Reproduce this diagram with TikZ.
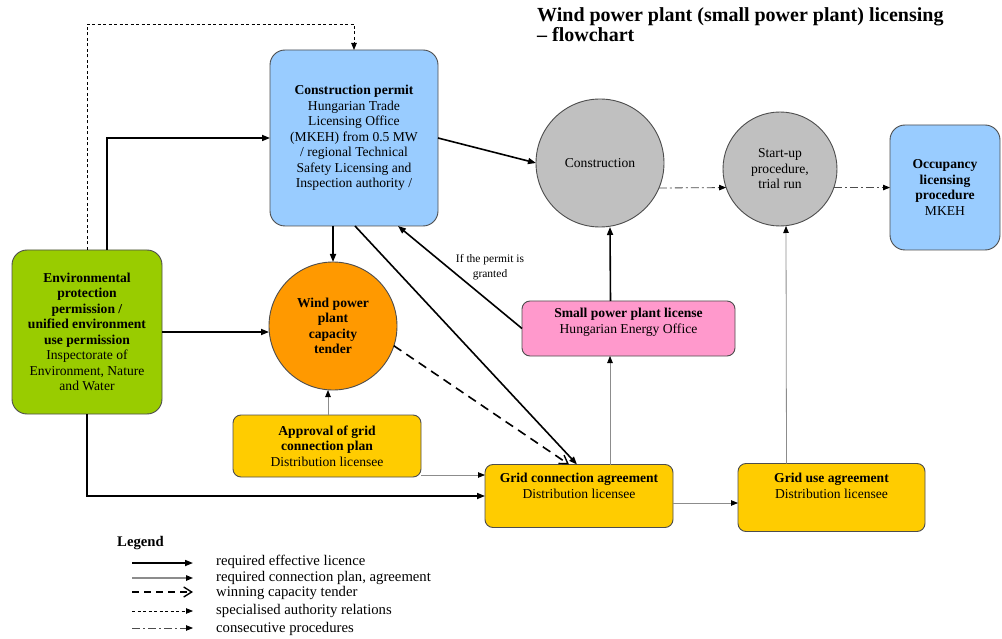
\documentclass[tikz,border=0pt]{standalone}
\usepackage{fontspec}
\setmainfont{Liberation Serif}
\usetikzlibrary{arrows.meta}
\definecolor{cpblue}{HTML}{99CCFF}
\definecolor{envgreen}{HTML}{99CC00}
\definecolor{tenderorange}{HTML}{FF9900}
\definecolor{gridyellow}{HTML}{FFCC00}
\definecolor{lpink}{HTML}{FF99CC}
\definecolor{cgray}{HTML}{C0C0C0}
\definecolor{edgegray}{HTML}{4D4D4D}
\definecolor{thingray}{HTML}{8C8C8C}
\newcommand{\bodyfont}{\fontsize{13.6}{15.5}\selectfont}
\newcommand{\legfont}{\fontsize{14.7}{16}\selectfont}
\begin{document}
\begin{tikzpicture}[x=1pt,y=-1pt,
  box/.style={draw=edgegray, line width=0.9pt, rounded corners=8pt, outer sep=0pt, inner sep=0pt, align=center, font=\bodyfont},
  bigbox/.style={box, rounded corners=15pt},
  circ/.style={circle, draw=edgegray, line width=0.9pt, fill=cgray, inner sep=0pt, outer sep=0pt, align=center, font=\bodyfont},
  txt/.style={align=center, font=\bodyfont, inner sep=0pt},
  lic/.style={line width=1.6pt, -{Triangle[length=8pt,width=6pt]}},
  plan/.style={line width=0.8pt, draw=thingray, -{Triangle[length=7pt,width=5.5pt,color=black]}},
  winning/.style={line width=1.6pt, dash pattern=on 9pt off 6pt, -{Straight Barb[length=8pt,width=10pt,line width=1.4pt]}},
  authority/.style={line width=0.8pt, dash pattern=on 3pt off 2.5pt, -{Triangle[length=7pt,width=5.5pt]}},
  consec/.style={line width=0.8pt, draw=black!70, dash pattern=on 8pt off 3pt on 2pt off 3pt, -{Triangle[length=7pt,width=5.5pt,color=black]}},
  legtxt/.style={anchor=base west, inner sep=0pt, font=\legfont}
]
\useasboundingbox[fill=white] (0,0) rectangle (1002,639);

% title
\node[anchor=north west, align=left, inner sep=0pt, font=\fontsize{20}{20.5}\selectfont\bfseries] (title) at (537,7)
  {Wind power plant (small power plant) licensing\\– flowchart};

% nodes
\node[bigbox, fill=cpblue, minimum width=168, minimum height=176] (cp) at (354,138)
  {\textbf{Construction permit}\\Hungarian Trade\\Licensing Office\\(MKEH) from 0.5 MW\\/ regional Technical\\Safety Licensing and\\Inspection authority /};
\node[bigbox, fill=envgreen, minimum width=150, minimum height=164] (env) at (87,332)
  {\textbf{Environmental}\\\textbf{protection}\\\textbf{permission /}\\\textbf{unified environment}\\\textbf{use permission}\\Inspectorate of\\Environment, Nature\\and Water};
\node[circ, fill=tenderorange, minimum size=128] (tender) at (333,326)
  {\textbf{Wind power}\\\textbf{plant}\\\textbf{capacity}\\\textbf{tender}};
\node[box, fill=gridyellow, minimum width=188, minimum height=62] (appr) at (327,446)
  {\textbf{Approval of grid}\\\textbf{connection plan}\\Distribution licensee};
\node[box, fill=gridyellow, minimum width=188, minimum height=63] (gca) at (579,496) {};
\node[txt] (gcat) at (579,486) {\textbf{Grid connection agreement}\\Distribution licensee};
\node[box, fill=gridyellow, minimum width=187, minimum height=68] (gua) at (831.5,497.5) {};
\node[txt] (guat) at (831.5,486) {\textbf{Grid use agreement}\\Distribution licensee};
\node[box, fill=lpink, minimum width=213, minimum height=55] (spl) at (628.5,328.5) {};
\node[txt] (splt) at (628.5,322) {\textbf{Small power plant license}\\Hungarian Energy Office};
\node[circ, minimum size=128] (con) at (600,163) {Construction};
\node[circ, minimum size=114] (su) at (780,169) {Start-up\\procedure,\\trial run};
\node[bigbox, fill=cpblue, minimum width=110, minimum height=125] (occ) at (945,187.5)
  {\textbf{Occupancy}\\\textbf{licensing}\\\textbf{procedure}\\MKEH};

\coordinate (top) at (354,24);

% connectors
\draw[authority] (env.north) |- (top) -- (cp.north);
\draw[lic] ([xshift=20]env.north) |- (cp.west);
\draw[lic] (env.east) -- (env.east -| tender.west);
\draw[lic] (env.south) |- (gca.west);
\draw[plan] ([yshift=2]appr.south east) -- ([yshift=2]appr.south east -| gca.west);
\draw[plan] ([xshift=1]appr.north) -- ([xshift=1]appr.north |- tender.south);
\draw[lic] (cp.south -| tender.north) -- (tender.north);
\draw[lic] (cp.east) -- (con.west);
\draw[lic] ([xshift=1]cp.south) -- ([xshift=-2]gca.north);
\draw[winning] (tender.-18) -- ([xshift=-10]gca.north);
\draw[lic] (spl.west) -- ([xshift=44]cp.south);
\node[inner sep=0pt, align=center, font=\fontsize{11.5}{15}\selectfont] (granted) at (490,267) {If the permit is\\granted};
\draw[plan] ([xshift=31]gca.north) -- ([xshift=31]gca.north |- spl.south);
\draw[lic] ([xshift=-18]spl.north) -- ([xshift=10]con.south);
\draw[plan] ([xshift=-45]gua.north) -- ([xshift=6]su.south);
\draw[plan] ([yshift=-7]gca.east) -- ([yshift=-7]gca.east -| gua.west);
\draw[consec] (con.-23) -- (su.199.5);
\draw[consec] (su.-19.5) -- (su.-19.5 -| occ.west);

% legend
\node[anchor=base west, inner sep=0pt, font=\legfont\bfseries] (legend) at (117,546) {Legend};
\coordinate (l1a) at (132,563); \coordinate (l1b) at (193,563);
\coordinate (l2a) at (132,578); \coordinate (l2b) at (193,578);
\coordinate (l3a) at (132,592); \coordinate (l3b) at (193,592);
\coordinate (l4a) at (132,611); \coordinate (l4b) at (193,611);
\coordinate (l5a) at (132,628); \coordinate (l5b) at (193,628);
\draw[lic] (l1a) -- (l1b);
\draw[plan, line width=1.4pt] (l2a) -- (l2b);
\draw[winning, dash pattern=on 7pt off 5pt] (l3a) -- (l3b);
\draw[authority] (l4a) -- (l4b);
\draw[consec] (l5a) -- (l5b);
\node[legtxt] (t1) at (216,565) {required effective licence};
\node[legtxt] (t2) at (216,581) {required connection plan, agreement};
\node[legtxt] (t3) at (216,596) {winning capacity tender};
\node[legtxt] (t4) at (216,614) {specialised authority relations};
\node[legtxt] (t5) at (216,632) {consecutive procedures};
\end{tikzpicture}
\end{document}
